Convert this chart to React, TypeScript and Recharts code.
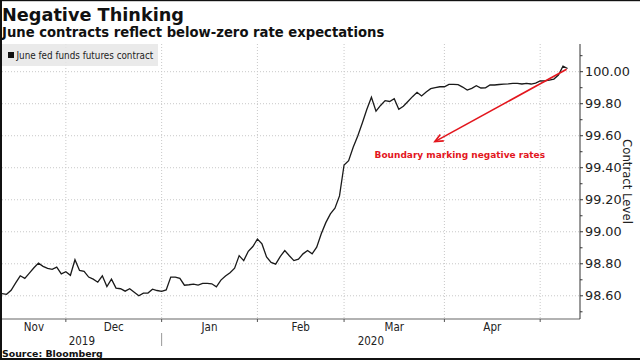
import React from 'react';
import { LineChart, Line, XAxis, YAxis, CartesianGrid, ReferenceLine } from 'recharts';

// Daily settlement of the June 2020 fed funds futures contract, one value per trading day
// (first value ~ Nov 8 2019, last value ~ May 8 2020)
const PRICES: number[] = [
  98.614, 98.609, 98.634, 98.681, 98.725, 98.709, 98.742, 98.775, 98.804, 98.784,
  98.772, 98.765, 98.779, 98.737, 98.750, 98.728, 98.825, 98.758, 98.753, 98.717,
  98.704, 98.685, 98.725, 98.658, 98.704, 98.648, 98.644, 98.629, 98.644, 98.622,
  98.600, 98.617, 98.617, 98.641, 98.633, 98.628, 98.637, 98.717, 98.717, 98.709,
  98.666, 98.669, 98.673, 98.667, 98.677, 98.678, 98.675, 98.656, 98.698, 98.723,
  98.744, 98.772, 98.851, 98.820, 98.878, 98.908, 98.954, 98.924, 98.843, 98.809,
  98.798, 98.845, 98.883, 98.850, 98.820, 98.829, 98.862, 98.883, 98.862, 98.904,
  98.987, 99.057, 99.112, 99.147, 99.224, 99.417, 99.444, 99.528, 99.598, 99.680,
  99.765, 99.840, 99.753, 99.789, 99.819, 99.814, 99.831, 99.765, 99.784, 99.814,
  99.844, 99.871, 99.848, 99.873, 99.894, 99.901, 99.906, 99.906, 99.921, 99.921,
  99.919, 99.904, 99.885, 99.896, 99.912, 99.898, 99.899, 99.917, 99.917, 99.920,
  99.922, 99.924, 99.927, 99.927, 99.923, 99.927, 99.923, 99.929, 99.942, 99.943,
  99.947, 99.954, 99.979, 100.035, 100.020,
];

const MONTH_LABELS = ['Nov', 'Dec', 'Jan', 'Feb', 'Mar', 'Apr'];
// trading-day index of the last session of Nov, Dec, Jan, Feb, Mar, Apr
const MONTH_END_INDEX = [14, 35, 56, 75, 97, 118];
const YEAR_LABELS = ['2019', '2020'];
const YEAR_END_INDEX = 35;
const X_MAX = 126.73;

const Y_TICKS = [98.5, 98.6, 98.7, 98.8, 98.9, 99.0, 99.1, 99.2, 99.3, 99.4, 99.5, 99.6, 99.7, 99.8, 99.9, 100.0, 100.1];
const Y_MAJOR = [98.6, 98.8, 99.0, 99.2, 99.4, 99.6, 99.8, 100.0];
const Y_DOMAIN: [number, number] = [98.455, 100.173];

const SERIES_NAME = 'June fed funds futures contract';
const TITLE = 'Negative Thinking';
const SUBTITLE = 'June contracts reflect below-zero rate expectations';
const SOURCE = 'Source: Bloomberg';
const Y_LABEL = 'Contract Level';
const ANNOTATION = 'Boundary marking negative rates';
const ARROW_FROM = { x: 123.8, y: 100.015 };
const ARROW_TO = { x: 94.9, y: 99.563 };

const data = PRICES.map((v, k) => ({ k, v }));

const monthCenters = MONTH_END_INDEX.map((end, i) => ((i === 0 ? 0 : MONTH_END_INDEX[i - 1]) + end) / 2);
const yearCenters = [YEAR_END_INDEX / 2, (YEAR_END_INDEX + X_MAX) / 2];
const xTicks = [...MONTH_END_INDEX, ...monthCenters, ...yearCenters];

const RED = '#e3161d';
const AXIS_FONT = '"DejaVu Sans Condensed", "DejaVu Sans", sans-serif';

const XTick = (props: any) => {
  const { x, y, payload } = props;
  const val = payload.value;
  if (MONTH_END_INDEX.includes(val)) {
    return (
      <g>
        <line x1={x} x2={x} y1={y} y2={y + 3} stroke="#555" strokeWidth={1} />
        {val === YEAR_END_INDEX ? <line x1={x} x2={x} y1={y + 14} y2={y + 27} stroke="#999" strokeWidth={1} /> : null}
      </g>
    );
  }
  const mi = monthCenters.indexOf(val);
  if (mi >= 0) {
    return (
      <text x={x} y={y + 11.7} textAnchor="middle" fontFamily={AXIS_FONT} fontSize={11.5} fill="#222">
        {MONTH_LABELS[mi]}
      </text>
    );
  }
  const yi = yearCenters.indexOf(val);
  if (yi >= 0) {
    return (
      <text x={x} y={y + 26} textAnchor="middle" fontFamily={AXIS_FONT} fontSize={11.5} fill="#222">
        {YEAR_LABELS[yi]}
      </text>
    );
  }
  return <g />;
};

const YTick = (props: any) => {
  const { x, y, payload } = props;
  const val = payload.value as number;
  const major = Y_MAJOR.some((m) => Math.abs(m - val) < 1e-6);
  return (
    <g>
      <line x1={x} x2={x + (major ? 3 : 2.5)} y1={y} y2={y} stroke="#333" strokeWidth={1} />
      {major ? (
        <text x={x + 5} y={y} dy="0.36em" textAnchor="start" fontFamily={'"DejaVu Sans", sans-serif'} fontSize={12.8} fill="#222">
          {val.toFixed(2)}
        </text>
      ) : null}
    </g>
  );
};

const ArrowShape = (props: any) => {
  const { x1, y1, x2, y2 } = props;
  const ang = Math.atan2(y1 - y2, x1 - x2);
  const len = 9;
  const spread = 0.42;
  const ax = x2 + len * Math.cos(ang + spread);
  const ay = y2 + len * Math.sin(ang + spread);
  const bx = x2 + len * Math.cos(ang - spread);
  const by = y2 + len * Math.sin(ang - spread);
  return (
    <g>
      <line x1={x1} y1={y1} x2={x2} y2={y2} stroke={RED} strokeWidth={1.6} />
      <polyline points={`${ax},${ay} ${x2},${y2} ${bx},${by}`} fill="none" stroke={RED} strokeWidth={1.6} />
      <text x={x2 + 25} y={y2 + 16} textAnchor="middle" fontFamily={'"DejaVu Sans", sans-serif'} fontWeight="bold" fontSize={9} fill={RED}>
        {ANNOTATION}
      </text>
    </g>
  );
};

export default function App() {
  return (
    <div style={{ position: 'absolute', left: 0, top: 0, width: 640, height: 360, background: '#fff', overflow: 'hidden' }}>
      <LineChart width={640} height={360} data={data} margin={{ top: 44, right: 0, bottom: 0, left: 2 }}>
        <CartesianGrid
          stroke="#c8c8c8"
          strokeDasharray="1 2"
          horizontalValues={Y_MAJOR}
          verticalValues={MONTH_END_INDEX}
        />
        <XAxis
          dataKey="k"
          type="number"
          domain={[0, X_MAX]}
          allowDataOverflow
          ticks={xTicks}
          interval={0}
          tick={<XTick />}
          tickLine={false}
          tickSize={0}
          tickMargin={0}
          height={41}
          axisLine={{ stroke: '#999', strokeWidth: 1.5 }}
        />
        <YAxis
          orientation="right"
          type="number"
          domain={Y_DOMAIN}
          allowDataOverflow
          ticks={Y_TICKS}
          interval={0}
          tick={<YTick />}
          tickLine={false}
          tickSize={0}
          tickMargin={0}
          width={60}
          axisLine={{ stroke: '#333', strokeWidth: 1 }}
          label={{ value: Y_LABEL, angle: 90, position: 'center', dx: 18, fontFamily: AXIS_FONT, fontSize: 13, fill: '#222' }}
        />
        <Line
          type="linear"
          dataKey="v"
          stroke="#1a1a1a"
          strokeWidth={1.3}
          dot={false}
          isAnimationActive={false}
        />
        <ReferenceLine
          segment={[ARROW_FROM, ARROW_TO]}
          shape={<ArrowShape />}
          ifOverflow="visible"
        />
      </LineChart>
      <svg width={640} height={360} style={{ position: 'absolute', left: 0, top: 0, pointerEvents: 'none' }}>
        <text x={2} y={20.7} fontFamily={'"DejaVu Sans", sans-serif'} fontWeight="bold" fontSize={17.7} fill="#111">
          {TITLE}
        </text>
        <text x={2} y={36.7} fontFamily={'"DejaVu Sans", sans-serif'} fontWeight="bold" fontSize={13.2} fill="#111">
          {SUBTITLE}
        </text>
        <rect x={2} y={44} width={156} height={22} fill="#e6e6e6" fillOpacity={0.85} />
        <rect x={8} y={52} width={6} height={6} fill="#111" />
        <text x={16.5} y={58.5} fontFamily={AXIS_FONT} fontSize={9.8} fill="#222">
          {SERIES_NAME}
        </text>
        <text x={2} y={356.5} fontFamily={'"DejaVu Sans", sans-serif'} fontWeight="bold" fontSize={9.4} fill="#111">
          {SOURCE}
        </text>
        <rect x={0} y={0} width={640} height={1.2} fill="#111" />
        <rect x={0} y={0} width={2} height={360} fill="#111" />
        <rect x={0} y={358} width={640} height={2} fill="#111" />
      </svg>
    </div>
  );
}
